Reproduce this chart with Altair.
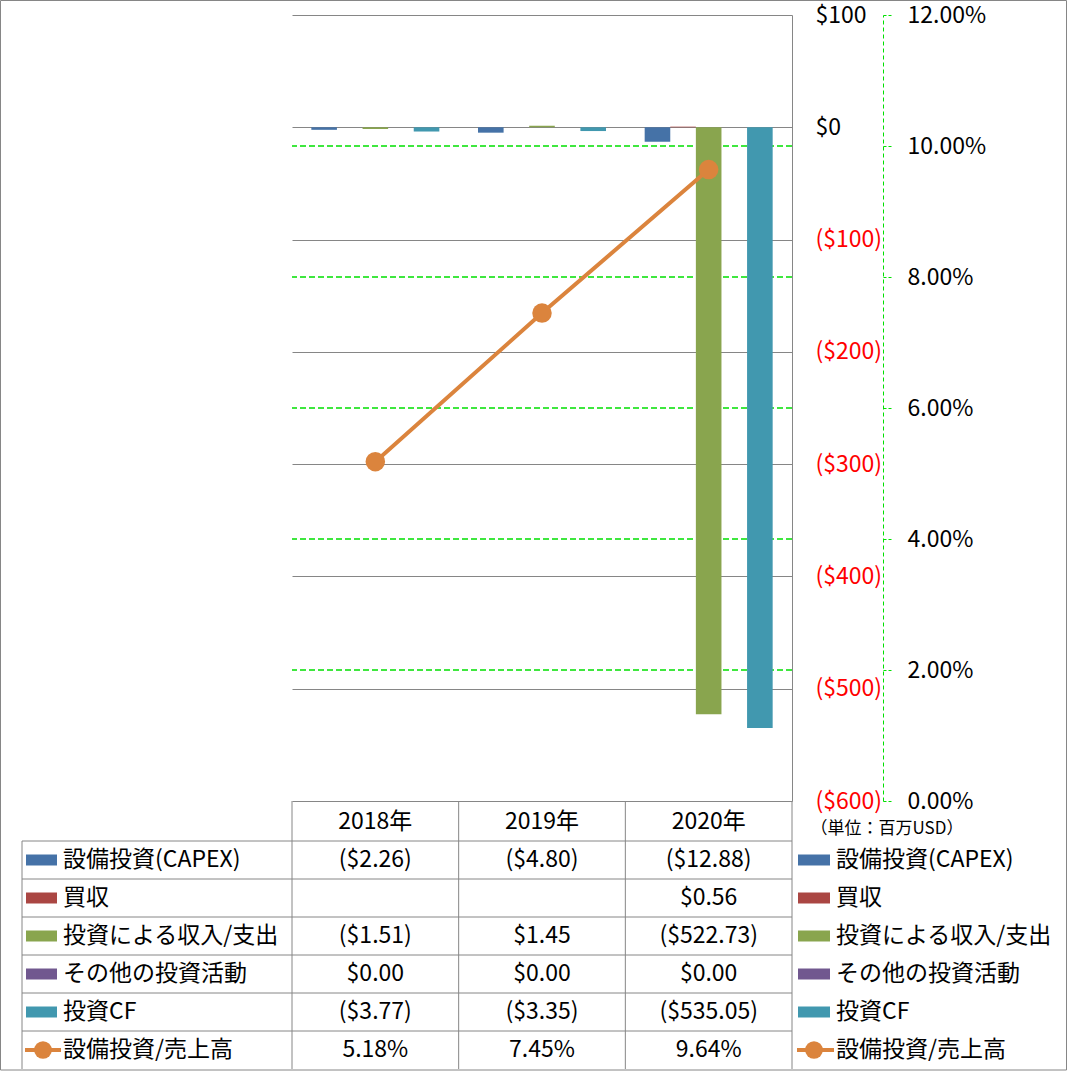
import altair as alt
import pandas as pd

# ---------------- data ----------------
years = ["2018年", "2019年", "2020年"]
series = ["設備投資(CAPEX)", "買収", "投資による収入/支出", "その他の投資活動", "投資CF"]
ratio_name = "設備投資/売上高"
capex = [-2.26, -4.80, -12.88]
acquisition = [None, None, 0.56]
invest_income = [-1.51, 1.45, -522.73]
other_invest = [0.00, 0.00, 0.00]
invest_cf = [-3.77, -3.35, -535.05]
capex_ratio = [0.0518, 0.0745, 0.0964]
usd_ticks = [100, 0, -100, -200, -300, -400, -500, -600]
pct_ticks = [0.0, 0.02, 0.04, 0.06, 0.08, 0.10, 0.12]
pct_grid = [0.02, 0.04, 0.06, 0.08, 0.10]
unit_label = "（単位：百万USD）"
colors = ["#4572A7", "#AA4643", "#89A54E", "#71588F", "#4198AF", "#DB843D"]

# ---------------- tables built from the arrays ----------------
row_names = series + [ratio_name]
values_by_series = [capex, acquisition, invest_income, other_invest, invest_cf]

bar_rows = []
for s, vals in zip(series, values_by_series):
    for y, v in zip(years, vals):
        if v is not None:
            bar_rows.append({"year": y, "series": s, "value": v})
bar_df = pd.DataFrame(bar_rows)


def money(v):
    return f"(${abs(v):.2f})" if v < 0 else f"${v:.2f}"


cell_rows = [{"year": r["year"], "row": r["series"], "text": money(r["value"])} for r in bar_rows]
for y, p in zip(years, capex_ratio):
    cell_rows.append({"year": y, "row": ratio_name, "text": f"{p * 100:.2f}%"})
cell_df = pd.DataFrame(cell_rows)

ratio_df = pd.DataFrame({"year": years, "ratio": capex_ratio})
row_df = pd.DataFrame({"row": row_names})
bar_row_df = pd.DataFrame({"row": series})
ratio_row_df = pd.DataFrame({"row": [ratio_name]})
one = pd.DataFrame({"t": [unit_label]})

# ---------------- styles ----------------
FONT = "Noto Sans CJK JP"
FS = 23
GRAY = "#868686"
GREEN = "#00E000"
ORANGE = colors[5]
W, H = 500, 786

xscale = alt.Scale(domain=years, paddingInner=0.232, paddingOuter=0.116)
X = alt.X(
    "year:N", sort=years, scale=xscale,
    axis=alt.Axis(orient="bottom", offset=20, title=None, domain=False, ticks=False,
                  tickSize=0, grid=False, labelPadding=0, labelBaseline="middle",
                  labelFontSize=FS, labelFont=FONT, labelColor="black", labelAngle=0),
)
usd_scale = alt.Scale(domain=[-600, 100], nice=False)
pct_scale = alt.Scale(domain=[0, 0.12], nice=False, zero=True)
row_scale = alt.Scale(domain=row_names, range=[826, 1054], paddingInner=0, paddingOuter=0)
cscale = alt.Scale(domain=row_names, range=colors)

usd_axis = alt.Axis(
    orient="right", values=usd_ticks, title=None, grid=True, gridColor=GRAY, gridWidth=1,
    domain=True, domainColor=GRAY, ticks=False, tickSize=0, labelPadding=23,
    labelAlign="left", labelBaseline="middle", labelFontSize=FS, labelFont=FONT,
    labelColor={"condition": {"test": "datum.value < 0", "value": "#FF0000"}, "value": "#000000"},
    labelExpr="datum.value < 0 ? '($' + format(-datum.value, ',d') + ')' : '$' + format(datum.value, ',d')",
    labelOverlap=False, labelFlush=False,
)
pct_axis = alt.Axis(
    orient="right", offset=91, values=pct_ticks, format=".2%", title=None, grid=False,
    domain=True, domainColor=GREEN, domainDash=[4, 3], domainWidth=1,
    ticks=True, tickColor=GREEN, tickDash=[3, 2], tickSize=9, tickWidth=1,
    labelPadding=15, labelFontSize=FS, labelFont=FONT, labelColor="black",
    labelBaseline="middle", labelOverlap=False, labelFlush=False,
)

Yrow = alt.Y("row:N", sort=row_names, scale=row_scale, axis=None)
Yrow_top = alt.Y("row:N", sort=row_names, scale=row_scale, axis=None, bandPosition=0)

# ---------------- layers ----------------
border = alt.Chart(one).mark_rect(fillOpacity=0, stroke=GRAY, strokeWidth=1).encode(
    x=alt.value(-291.5), x2=alt.value(774.5), y=alt.value(-14.5), y2=alt.value(1055)
)

pgrid = alt.Chart(pd.DataFrame({"p": pct_grid})).mark_rule(
    color=GREEN, strokeDash=[6, 3], strokeWidth=1.5
).encode(y=alt.Y("p:Q", scale=pct_scale, axis=None))

bars = alt.Chart(bar_df).mark_bar().encode(
    x=X,
    xOffset=alt.XOffset("series:N", sort=series,
                        scale=alt.Scale(domain=series, paddingInner=0, paddingOuter=0)),
    y=alt.Y("value:Q", scale=usd_scale, axis=usd_axis),
    color=alt.Color("series:N", scale=cscale, legend=None),
)

line = alt.Chart(ratio_df).mark_line(color=ORANGE, strokeWidth=4).encode(
    x=X, y=alt.Y("ratio:Q", scale=pct_scale, axis=pct_axis)
)
points = alt.Chart(ratio_df).mark_circle(color=ORANGE, size=380, opacity=1).encode(
    x=X, y=alt.Y("ratio:Q", scale=pct_scale, axis=None)
)

hlines = alt.Chart(row_df).mark_rule(color=GRAY, strokeWidth=1).encode(
    y=Yrow_top, x=alt.value(-270), x2=alt.value(500)
)
vline_specs = [(0, 786, 1054), (W / 3, 786, 1054), (2 * W / 3, 786, 1054), (W, 786, 1054), (-270, 826, 1054)]
vlines = [
    alt.Chart(one).mark_rule(color=GRAY, strokeWidth=1).encode(
        x=alt.value(xv), y=alt.value(y0), y2=alt.value(y1)
    )
    for xv, y0, y1 in vline_specs
]

cells = alt.Chart(cell_df).mark_text(fontSize=FS, font=FONT, color="black", baseline="middle").encode(
    x=X, y=Yrow, text="text:N"
)

left_labels = alt.Chart(row_df).mark_text(
    fontSize=FS, font=FONT, color="black", align="left", baseline="middle"
).encode(x=alt.value(-229), y=Yrow, text="row:N")
right_labels = alt.Chart(row_df).mark_text(
    fontSize=FS, font=FONT, color="black", align="left", baseline="middle"
).encode(x=alt.value(544), y=Yrow, text="row:N")

swatch_layers = []
for x0, x1, cx in [(-266, -235, -249), (506, 538, 522)]:
    swatch_layers.append(
        alt.Chart(bar_row_df).mark_rule(strokeWidth=11).encode(
            x=alt.value(x0), x2=alt.value(x1), y=Yrow,
            color=alt.Color("row:N", scale=cscale, legend=None),
        )
    )
    swatch_layers.append(
        alt.Chart(ratio_row_df).mark_rule(strokeWidth=4, color=ORANGE).encode(
            x=alt.value(x0 - 1), x2=alt.value(x1 + 4), y=Yrow
        )
    )
    swatch_layers.append(
        alt.Chart(ratio_row_df).mark_circle(size=314, color=ORANGE, opacity=1).encode(
            x=alt.value(cx), y=Yrow
        )
    )

unit = alt.Chart(one).mark_text(fontSize=17, font=FONT, color="black", baseline="middle").encode(
    x=alt.value(595), y=alt.value(814), text="t:N"
)

chart = alt.layer(
    border, pgrid, bars, line, points, hlines, *vlines, cells, left_labels, right_labels,
    *swatch_layers, unit
).resolve_scale(y="independent").properties(
    width=W, height=H,
    padding={"left": 292, "top": 15, "right": 275, "bottom": 270},
    autosize=alt.AutoSizeParams(type="none"),
    background="white",
).configure_view(strokeWidth=0).configure_text(font=FONT)

chart.save("out.html", embed_options={"renderer": "svg", "actions": False})
